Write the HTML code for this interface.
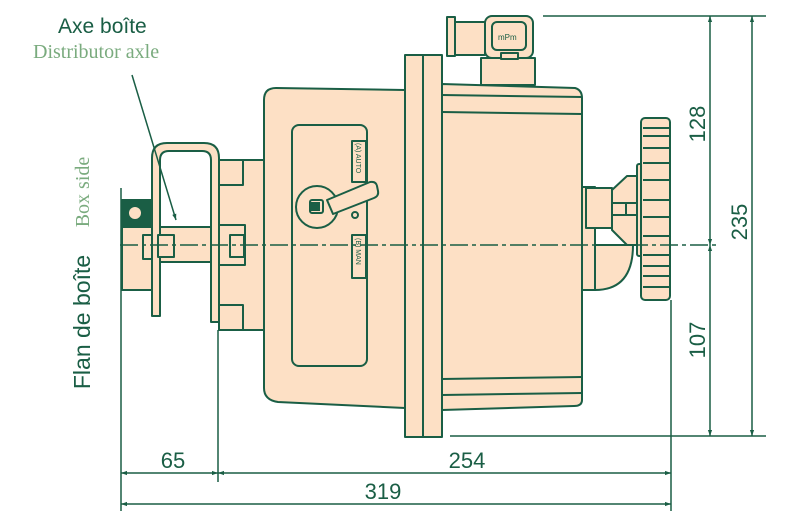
<!DOCTYPE html>
<html><head><meta charset="utf-8"><style>
html,body{margin:0;padding:0;background:#fff;width:800px;height:511px;overflow:hidden}
</style></head><body>
<svg width="800" height="511" viewBox="0 0 800 511" xmlns="http://www.w3.org/2000/svg" font-family="Liberation Sans, sans-serif">
<defs>
<marker id="a" viewBox="0 0 10 10" refX="10" refY="5" markerWidth="9" markerHeight="6" orient="auto-start-reverse" markerUnits="userSpaceOnUse"><path d="M0,1.5L10,5L0,8.5z" fill="#1a5e45"/></marker>
</defs>
<g stroke="#1a5e45" stroke-width="2" fill="#fde0c5" stroke-linejoin="round">
<rect x="122" y="200" width="32" height="90"/>
<rect x="123" y="200" width="29" height="27" fill="#1a5e45"/>
<circle cx="135" cy="213" r="6" fill="#fde0c5" stroke="none"/>
<rect x="143" y="235" width="30" height="24"/>
<path d="M152,316 V158 Q152,143 167,143 H204 Q219,143 219,158 V322 H211 V160 Q211,151 202,151 H169 Q160,151 160,160 V316 Z"/>
<rect x="160" y="227" width="51" height="35"/>
<rect x="158" y="235" width="16" height="22"/>
<rect x="219" y="160" width="45" height="170"/>
<rect x="219" y="160" width="24" height="25"/>
<rect x="219" y="225" width="26" height="40"/>
<rect x="230" y="235" width="14" height="22"/>
<rect x="219" y="305" width="24" height="25"/>
<path d="M264,100 Q264,88 276,88 L405,90 V408 L278,402 Q264,400 264,388 Z"/>
<rect x="292" y="125" width="75" height="241" rx="7"/>
<rect x="352" y="141" width="14" height="41"/>
<rect x="352" y="235" width="14" height="43"/>
<circle cx="317" cy="207" r="21"/>
<rect x="310" y="200" width="13" height="13" rx="2"/>
<rect x="311" y="202" width="9" height="9" fill="#1a5e45" stroke="none"/>
<path d="M327,200 L370,182 Q376,181 377,186 L378,191 Q379,196 374,198 L333,214 Z"/>
<circle cx="355" cy="215" r="3"/>
<path d="M442,84 L575,88 Q582,90 582,98 V400 Q582,406 574,406 L442,410 Z"/>
<line x1="442" y1="95" x2="582" y2="97"/>
<line x1="442" y1="112" x2="582" y2="114"/>
<line x1="442" y1="379" x2="582" y2="377"/>
<line x1="442" y1="395" x2="582" y2="393"/>
<rect x="405" y="55" width="37" height="382"/>
<line x1="423" y1="55" x2="423" y2="437"/>
<rect x="481" y="58" width="54" height="27"/>
<rect x="447" y="17" width="8" height="39"/>
<rect x="455" y="22" width="30" height="33"/>
<rect x="485" y="16" width="48" height="42" rx="7"/>
<rect x="492" y="22" width="34" height="28" rx="5"/>
<rect x="501" y="53" width="17" height="6"/>
<path d="M595,245 H633 Q633,290 595,290 Z"/>
<rect x="582" y="187" width="13" height="103"/>
<rect x="586" y="188" width="26" height="40"/>
<path d="M612,190 L627,176 H640 V245 H627 L612,230 Z"/>
<line x1="612" y1="203" x2="640" y2="203"/>
<line x1="612" y1="215" x2="640" y2="215"/>
<line x1="626" y1="203" x2="626" y2="215"/>
<rect x="637" y="164" width="6" height="92" rx="2"/>
<rect x="641" y="118" width="29" height="182" rx="4"/>
</g>
<g stroke="#1a5e45" stroke-width="2">
<line x1="643" y1="128" x2="669" y2="128"/><line x1="643" y1="136" x2="669" y2="136"/>
<line x1="643" y1="148" x2="669" y2="148"/><line x1="643" y1="163" x2="669" y2="163"/>
<line x1="643" y1="180" x2="669" y2="180"/><line x1="643" y1="200" x2="669" y2="200"/>
<line x1="643" y1="217" x2="669" y2="217"/><line x1="643" y1="236" x2="669" y2="236"/>
<line x1="643" y1="255" x2="669" y2="255"/><line x1="643" y1="266" x2="669" y2="266"/>
<line x1="643" y1="276" x2="669" y2="276"/><line x1="643" y1="287" x2="669" y2="287"/>
</g>
<g fill="#1a5e45" font-size="7">
<text transform="translate(356,143) rotate(90)">(A) AUTO</text>
<text transform="translate(356,238) rotate(90)">(B) MAN</text>
<text x="498" y="40" font-size="8">mPm</text>
</g>
<g stroke="#1a5e45" stroke-width="1.5" fill="none">
<line x1="120" y1="245" x2="718" y2="245" stroke-dasharray="18,4,4,4"/>
<line x1="543" y1="16" x2="766" y2="16"/>
<line x1="450" y1="436" x2="766" y2="436"/>
<line x1="121" y1="188" x2="121" y2="511"/>
<line x1="218" y1="330" x2="218" y2="482"/>
<line x1="671" y1="300" x2="671" y2="511"/>
<line x1="710" y1="16" x2="710" y2="245" marker-start="url(#a)" marker-end="url(#a)"/>
<line x1="710" y1="245" x2="710" y2="436" marker-start="url(#a)" marker-end="url(#a)"/>
<line x1="752" y1="16" x2="752" y2="436" marker-start="url(#a)" marker-end="url(#a)"/>
<line x1="121" y1="473" x2="218" y2="473" marker-start="url(#a)" marker-end="url(#a)"/>
<line x1="218" y1="473" x2="671" y2="473" marker-start="url(#a)" marker-end="url(#a)"/>
<line x1="121" y1="504" x2="671" y2="504" marker-start="url(#a)" marker-end="url(#a)"/>
<line x1="132" y1="75" x2="176" y2="220" marker-end="url(#a)"/>
</g>
<g fill="#1a5e45" font-size="22">
<text x="173" y="468" text-anchor="middle">65</text>
<text x="467" y="468" text-anchor="middle">254</text>
<text x="383" y="499" text-anchor="middle">319</text>
<text transform="translate(705,124) rotate(-90)" text-anchor="middle">128</text>
<text transform="translate(705,340) rotate(-90)" text-anchor="middle">107</text>
<text transform="translate(747,222) rotate(-90)" text-anchor="middle">235</text>
<text transform="translate(90,322) rotate(-90)" text-anchor="middle" font-size="23">Flan de boîte</text>
<text x="58" y="33" font-size="21">Axe boîte</text>
</g>
<g fill="#7aab7e" font-family="Liberation Serif, serif" font-size="20">
<text x="33" y="58">Distributor axle</text>
<text transform="translate(89,192) rotate(-90)" text-anchor="middle">Box side</text>
</g>
</svg>
</body></html>
